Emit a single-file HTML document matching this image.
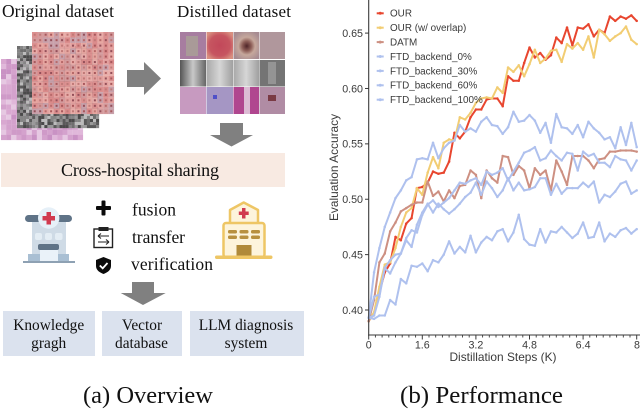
<!DOCTYPE html>
<html lang="en">
<head>
<meta charset="utf-8">
<title>Overview and Performance</title>
<style>
html,body{margin:0;padding:0;background:#fff;width:640px;height:410px;overflow:hidden}
svg{display:block}
.serif{font-family:"Liberation Serif",serif;fill:#111}
.sans{font-family:"Liberation Sans",sans-serif;fill:#3a3a3a}
</style>
</head>
<body>
<svg id="root" xmlns="http://www.w3.org/2000/svg" width="640" height="410" viewBox="0 0 640 410">
  <defs>
    <linearGradient id="g-xray" x1="0" x2="1" y1="0" y2="0"><stop offset="0" stop-color="#555"/><stop offset=".5" stop-color="#c8c8c8"/><stop offset="1" stop-color="#666"/></linearGradient>
    <linearGradient id="g-xray2" x1="0" x2="1" y1="0" y2="0"><stop offset="0" stop-color="#a8a8a8"/><stop offset=".5" stop-color="#d6d6d6"/><stop offset="1" stop-color="#a0a0a0"/></linearGradient>
    <radialGradient id="g-les" cx="50%" cy="50%" r="60%"><stop offset="0" stop-color="#c2485a"/><stop offset=".65" stop-color="#c65560"/><stop offset="1" stop-color="#d88f80"/></radialGradient>
    <radialGradient id="g-les2" cx="52%" cy="52%" r="60%"><stop offset="0" stop-color="#4e2428"/><stop offset=".3" stop-color="#8e5f58"/><stop offset=".55" stop-color="#c6a89c"/><stop offset="1" stop-color="#a78c92"/></radialGradient>
  </defs>

  <g id="mosaics"></g>

  <text class="serif" x="2" y="17" font-size="17.5" textLength="112" lengthAdjust="spacing">Original dataset</text>
  <text class="serif" x="177" y="17" font-size="17" textLength="114" lengthAdjust="spacing">Distilled dataset</text>

  <polygon fill="#808080" points="127,70 144,70 144,62 161,78.5 144,95 144,87 127,87"/>

  <g>
    <rect x="180" y="32" width="26" height="27" fill="#a77da0"/>
    <rect x="186" y="36" width="12" height="20" fill="#a99a98"/>
    <rect x="206.500" y="32" width="26.500" height="27" fill="url(#g-les)"/>
    <rect x="233.500" y="32" width="25.500" height="27" fill="url(#g-les2)"/>
    <rect x="259.500" y="32" width="25.500" height="27" fill="#b0979c"/>
    <rect x="180" y="60" width="26" height="26.500" fill="url(#g-xray)"/>
    <rect x="206.500" y="60" width="26.500" height="26.500" fill="url(#g-xray2)"/>
    <rect x="233.500" y="60" width="25.500" height="26.500" fill="url(#g-xray2)"/>
    <rect x="259.500" y="60" width="25.500" height="26.500" fill="#747474"/>
    <rect x="268" y="62" width="8" height="22" fill="#949494"/>
    <rect x="180" y="87" width="26" height="27" fill="#c79ac0"/>
    <rect x="206.500" y="87" width="26.500" height="27" fill="#a596c4"/>
    <rect x="213" y="95" width="4" height="4" fill="#5050c8"/>
    <rect x="233.500" y="87" width="25.500" height="27" fill="#b0468f"/>
    <rect x="244" y="87" width="6" height="27" fill="#dcbcd4"/>
    <rect x="259.500" y="87" width="25.500" height="27" fill="#b08ca4"/>
    <rect x="268" y="95" width="8" height="6" fill="#7a3a44"/>
  </g>

  <polygon fill="#808080" points="220,123 243,123 243,135 253,135 231.500,146.500 210,135 220,135"/>

  <rect x="1" y="153" width="284" height="34" fill="#f8eae2"/>
  <text class="serif" x="61" y="176" font-size="18" textLength="158" lengthAdjust="spacing">Cross-hospital sharing</text>

  <g>
    <rect x="32" y="218" width="34" height="44" fill="#cfdbe6"/>
    <rect x="25" y="215" width="47" height="7" rx="3.500" fill="#5f7387"/>
    <circle cx="48.700" cy="218" r="10.700" fill="#e6f0f8"/>
    <path d="M46.500 212h4.500v4h4v4.500h-4v4h-4.500v-4h-4v-4.500h4z" fill="#d13a4f"/>
    <rect x="35" y="233" width="7" height="7" rx="2" fill="#e4edf4"/>
    <rect x="45" y="233" width="7" height="7" rx="2" fill="#e4edf4"/>
    <rect x="55" y="233" width="7.500" height="7" rx="2" fill="#e4edf4"/>
    <rect x="28" y="254" width="12" height="8" fill="#a9bfd3"/>
    <rect x="58" y="254" width="11" height="8" fill="#a9bfd3"/>
    <rect x="40" y="250" width="18" height="12" fill="#eaf2f9"/>
    <rect x="38" y="244" width="21" height="6" rx="2" fill="#5f7387"/>
    <rect x="23" y="261" width="52" height="2" fill="#8ea1b3"/>
  </g>

  <g>
    <polygon points="243.700,202.500 258,210 258,224 230,224 230,210" fill="#fdf4dc" stroke="#eec665" stroke-width="2.500" stroke-linejoin="round"/>
    <path d="M242 208h3.500v3.500h3.200v3.500h-3.200v3.500h-3.500v-3.500h-3.200v-3.500h3.200z" fill="#d13a4f"/>
    <rect x="223.500" y="223" width="41" height="34" rx="2.500" fill="#fdf4dc" stroke="#eec665" stroke-width="2.500"/>
    <rect x="228" y="230" width="9" height="3.500" rx="1.500" fill="#b8903f"/>
    <rect x="239.500" y="230" width="9" height="3.500" rx="1.500" fill="#b8903f"/>
    <rect x="251" y="230" width="9" height="3.500" rx="1.500" fill="#b8903f"/>
    <rect x="228" y="235.500" width="9" height="3.500" rx="1.500" fill="#b8903f"/>
    <rect x="239.500" y="235.500" width="9" height="3.500" rx="1.500" fill="#b8903f"/>
    <rect x="251" y="235.500" width="9" height="3.500" rx="1.500" fill="#b8903f"/>
    <rect x="236.500" y="245" width="15" height="11" fill="#b08a3a"/>
    <rect x="215" y="255.500" width="57.500" height="3.500" rx="1.700" fill="#eec665"/>
  </g>

  <g>
    <rect x="96" y="206" width="15" height="4" rx="1" fill="#0b0b0b"/>
    <rect x="101.500" y="200.500" width="4" height="15" rx="1" fill="#0b0b0b"/>
  </g>
  <g fill="none" stroke="#222">
    <rect x="94" y="229" width="18.500" height="18.500" stroke-width="1.400"/>
    <rect x="98.500" y="227" width="10" height="4" fill="#222" stroke="none"/>
    <path d="M98 236h11M98 236l3-2.500M98 236l3 2.500M109 242H98M109 242l-3-2.500M109 242l-3 2.500" stroke-width="1.100"/>
  </g>
  <g>
    <path d="M103.500 257 L111 260 V266 C111 270 107.500 272.500 103.500 274 C99.500 272.500 96 270 96 266 V260 Z" fill="#0b0b0b"/>
    <path d="M99.800 265.500 L102.700 268.300 L107.500 263" fill="none" stroke="#fff" stroke-width="1.800"/>
  </g>

  <text class="serif" x="132" y="215.500" font-size="17.500" textLength="44" lengthAdjust="spacing">fusion</text>
  <text class="serif" x="132" y="243" font-size="17.500" textLength="53" lengthAdjust="spacing">transfer</text>
  <text class="serif" x="131" y="270" font-size="17.500" textLength="82" lengthAdjust="spacing">verification</text>

  <polygon fill="#808080" points="132,282 154,282 154,293 165.700,293 143,305 120.700,293 132,293"/>

  <rect x="3" y="311" width="92" height="45" fill="#dbe2ee"/>
  <rect x="102" y="311" width="80" height="45" fill="#dbe2ee"/>
  <rect x="190" y="311" width="114" height="45" fill="#dbe2ee"/>
  <g class="serif" font-size="15.400" text-anchor="middle">
    <text class="serif" x="48.700" y="330">Knowledge</text>
    <text class="serif" x="48.700" y="348">gragh</text>
    <text class="serif" x="142" y="330">Vector</text>
    <text class="serif" x="141.500" y="348">database</text>
    <text class="serif" x="246" y="330">LLM diagnosis</text>
    <text class="serif" x="246" y="348">system</text>
  </g>

  <text class="serif" x="83" y="403" font-size="24.500" textLength="130" lengthAdjust="spacingAndGlyphs">(a) Overview</text>
  <text class="serif" x="400" y="403" font-size="24.500" textLength="163" lengthAdjust="spacingAndGlyphs">(b) Performance</text>

  <g id="chart"></g>
</svg>

<script>
// ---------- chart data ----------
const steps = [0,0.16,0.32,0.48,0.64,0.8,0.96,1.12,1.28,1.44,1.6,1.76,1.92,2.08,2.24,2.4,2.56,2.72,2.88,3.04,3.2,3.36,3.52,3.68,3.84,4,4.16,4.32,4.48,4.64,4.8,4.96,5.12,5.28,5.44,5.6,5.76,5.92,6.08,6.24,6.4,6.56,6.72,6.88,7.04,7.2,7.36,7.52,7.68,7.84,8];
const ourValues = [.390,.397,.416,.434,.442,.466,.463,.478,.483,.510,.511,.515,.525,.523,.524,.534,.560,.555,.561,.574,.581,.581,.590,.591,.591,.584,.611,.607,.607,.623,.637,.628,.632,.626,.630,.646,.641,.655,.639,.655,.654,.658,.647,.653,.650,.665,.661,.665,.663,.666,.661];
const overlapValues = [.390,.398,.421,.441,.443,.456,.475,.488,.492,.510,.504,.524,.538,.528,.551,.554,.553,.574,.572,.578,.587,.591,.592,.591,.601,.596,.619,.615,.621,.611,.622,.635,.623,.627,.634,.635,.624,.640,.636,.641,.635,.647,.628,.653,.649,.643,.647,.650,.656,.644,.640];
const datmValues = [.390,.409,.443,.451,.471,.479,.489,.492,.495,.497,.497,.516,.503,.507,.498,.508,.501,.512,.513,.526,.522,.501,.526,.519,.515,.539,.538,.522,.530,.526,.510,.528,.522,.526,.508,.535,.525,.513,.539,.539,.539,.535,.528,.536,.537,.543,.543,.544,.544,.544,.543];
const ftd0Values = [.393,.434,.456,.475,.488,.501,.508,.517,.520,.536,.537,.536,.551,.537,.546,.551,.553,.567,.561,.564,.561,.570,.574,.567,.566,.559,.565,.579,.570,.571,.576,.571,.560,.569,.551,.577,.565,.564,.559,.567,.556,.570,.564,.560,.554,.556,.546,.565,.549,.569,.547];
const ftd30Values = [.393,.395,.412,.438,.445,.450,.451,.465,.472,.470,.486,.495,.499,.493,.497,.501,.508,.515,.514,.517,.519,.513,.525,.522,.524,.528,.517,.525,.533,.542,.544,.547,.535,.537,.544,.539,.535,.542,.541,.526,.543,.539,.541,.533,.533,.529,.539,.536,.535,.526,.535];
const ftd60Values = [.393,.412,.414,.438,.433,.443,.451,.463,.457,.477,.488,.496,.488,.496,.491,.487,.491,.496,.502,.506,.515,.504,.516,.510,.502,.508,.519,.508,.515,.508,.509,.511,.519,.519,.504,.514,.505,.510,.510,.510,.515,.511,.516,.497,.504,.502,.507,.514,.516,.505,.508];
const ftd100Values = [.393,.392,.395,.395,.409,.405,.428,.424,.440,.439,.442,.435,.445,.443,.450,.462,.451,.457,.452,.467,.452,.461,.466,.463,.471,.473,.462,.470,.486,.464,.459,.458,.473,.461,.471,.470,.475,.470,.465,.469,.479,.465,.466,.479,.462,.469,.466,.472,.474,.469,.473];
const seriesNames = ['OUR','OUR (w/ overlap)','DATM','FTD_backend_0%','FTD_backend_30%','FTD_backend_60%','FTD_backend_100%'];
const seriesValues = [ourValues,overlapValues,datmValues,ftd0Values,ftd30Values,ftd60Values,ftd100Values];
const seriesColors = ['#e8462f','#f2cd73','#cd9082','#afc1ee','#afc1ee','#afc1ee','#afc1ee'];
const xTickValues = [0,1.6,3.2,4.8,6.4,8];
const xTickLabels = ['0','1.6','3.2','4.8','6.4','8'];
const xMinorTicks = [0.2,0.4,0.6,0.8,1,1.2,1.4,1.8,2,2.2,2.4,2.6,2.8,3,3.4,3.6,3.8,4,4.2,4.4,4.6,5,5.2,5.4,5.6,5.8,6,6.2,6.6,6.8,7,7.2,7.4,7.6,7.8];
const yTickValues = [0.40,0.45,0.50,0.55,0.60,0.65];
const yTickLabels = ['0.40','0.45','0.50','0.55','0.60','0.65'];

// ---------- axis functions ----------
function xScale(k){ return 368.7 + k * 33.5; }
function yScale(v){ return 310 - (v - 0.40) * 1107.6; }

const NS = 'http://www.w3.org/2000/svg';
const chart = document.getElementById('chart');
function mk(tag, attrs, parent){
  const el = document.createElementNS(NS, tag);
  for (const k in attrs) el.setAttribute(k, attrs[k]);
  parent.appendChild(el);
  return el;
}
function slug(s){ return s.toLowerCase().replace(/[^a-z0-9]+/g,'-').replace(/-+$/,''); }

// series
seriesValues.forEach(function(vals, s){
  const g = mk('g', {}, chart);
  
  
  const pts = vals.map(function(v, i){ return xScale(steps[i]).toFixed(2) + ',' + yScale(v).toFixed(2); }).join(' ');
  const line = mk('polyline', {points: pts, fill: 'none', stroke: seriesColors[s], 'stroke-width': 2, 'stroke-linejoin': 'round'}, g);
  
  
  vals.forEach(function(v, i){
    const c = mk('circle', {cx: xScale(steps[i]).toFixed(2), cy: yScale(v).toFixed(2), r: 1.25, fill: seriesColors[s]}, g);
    
    
  });
});

// axes
const yAxis = mk('line', {x1: 368.7, x2: 368.7, y1: 0, y2: 335.6, stroke: '#3a3a3a', 'stroke-width': 1.1}, chart);


const xAxis = mk('line', {x1: 368.2, x2: 640, y1: 335, y2: 335, stroke: '#3a3a3a', 'stroke-width': 1.1}, chart);



yTickValues.forEach(function(v, i){
  const y = yScale(v);
  const t = mk('line', {x1: 365, x2: 368.7, y1: y, y2: y, stroke: '#3a3a3a', 'stroke-width': 1}, chart);
  
  
  const l = mk('text', {x: 363, y: y + 3.8, 'text-anchor': 'end', 'font-size': 10.7, 'class': 'sans'}, chart);
  
  
  l.textContent = yTickLabels[i];
});
xTickValues.forEach(function(k, i){
  const x = xScale(k);
  const t = mk('line', {x1: x, x2: x, y1: 335, y2: 339.5, stroke: '#3a3a3a', 'stroke-width': 1}, chart);
  
  
  const l = mk('text', {x: Math.min(x, 634), y: 348.7, 'text-anchor': i === 5 ? 'start' : 'middle', 'font-size': 10.7, 'class': 'sans'}, chart);
  
  
  l.textContent = xTickLabels[i];
});
xMinorTicks.forEach(function(k){
  const x = xScale(k);
  const t = mk('line', {x1: x, x2: x, y1: 335, y2: 337.5, stroke: '#3a3a3a', 'stroke-width': 0.9}, chart);
  
  
});

const xTitle = mk('text', {x: 503, y: 361, 'text-anchor': 'middle', 'font-size': 11.9, 'class': 'sans'}, chart);


xTitle.textContent = 'Distillation Steps (K)';
const yTitle = mk('text', {x: 0, y: 0, 'text-anchor': 'middle', 'font-size': 11.9, 'class': 'sans', transform: 'translate(338 167.5) rotate(-90)'}, chart);


yTitle.textContent = 'Evaluation Accuracy';

// legend
seriesNames.forEach(function(name, s){
  const y = 13.3 + s * 14.4;
  const h = mk('line', {x1: 376.7, x2: 383.7, y1: y, y2: y, stroke: seriesColors[s], 'stroke-width': 2}, chart);
  
  
  const d = mk('circle', {cx: 380.2, cy: y, r: 1.5, fill: seriesColors[s]}, chart);
  
  
  const t = mk('text', {x: 390, y: y + 3.4, 'font-size': 9.9, 'class': 'sans'}, chart);
  
  
  t.textContent = name;
});

// ---------- decorative image mosaics ----------
const mosaics = document.getElementById('mosaics');
function hash(a, b, c){
  let h = (a * 73856093) ^ (b * 19349663) ^ (c * 83492791);
  h = (h ^ (h >>> 13)) * 1274126177 | 0;
  return ((h ^ (h >>> 16)) >>> 0) / 4294967295;
}
function tile(x, y, w, h, col){
  const r = mk('rect', {x: x, y: y, width: w, height: h, fill: col}, mosaics);
  
  
}
// purple histology sheet
const purplePalette = ['#d9a8d1','#cf9ac8','#e0b8da','#c992c4','#e6c8e2','#d4a2cd'];
for (let r = 0; r < 16; r++) for (let c = 0; c < 16; c++) {
  tile(1 + c * 5.125, 59 + r * 5.06, 5.2, 5.2, purplePalette[Math.floor(hash(r, c, 1) * purplePalette.length) % purplePalette.length]);
}
// grey x-ray sheet
const greyPalette = ['#4a4a4a','#6f6f6f','#9a9a9a','#bcbcbc','#5a5a5a','#858585'];
for (let r = 0; r < 27; r++) for (let c = 0; c < 27; c++) {
  tile(17 + c * 3.04, 46 + r * 3.04, 3.1, 3.1, greyPalette[Math.floor(hash(r, c, 2) * greyPalette.length) % greyPalette.length]);
}
// red skin sheet
const redPalette = ['#e3a09e','#dc9090','#e8aca8','#d49a9c','#c8a0aa','#da8a8a','#e6a6a0'];
const redDot = ['#a8585c','#b86a6a','#94505a','#c07a78'];
for (let r = 0; r < 15; r++) for (let c = 0; c < 15; c++) {
  const x = 32 + c * 5.47, y = 32 + r * 5.47;
  tile(x, y, 5.5, 5.5, redPalette[Math.floor(hash(r, c, 3) * redPalette.length) % redPalette.length]);
  tile(x + 1.7, y + 1.7, 2, 2, redDot[Math.floor(hash(r, c, 4) * redDot.length) % redDot.length]);
}
</script>
</body>
</html>
